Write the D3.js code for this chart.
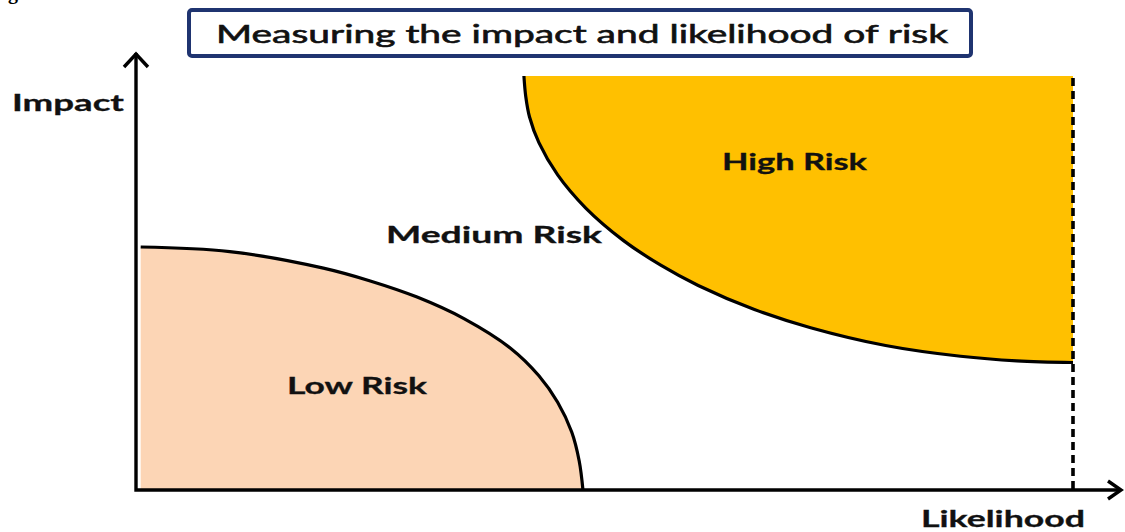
<!DOCTYPE html>
<html>
<head>
<meta charset="utf-8">
<script src="https://cdn.jsdelivr.net/npm/d3@7/dist/d3.min.js"></script>
<style>
  html, body { margin: 0; padding: 0; background: #fff; }
  svg { display: block; }
</style>
</head>
<body>
<script>
// Risk zones on a likelihood (0-100) × impact (0-100) plane.
// Each boundary is a list of [likelihood, impact] points.
const lowRiskEdge = [
  [0.5, 58.7], [10, 57.6], [20, 53.6], [25, 50.5], [30, 46.6], [35, 41.4],
  [40, 34.2], [43, 27.6], [45, 21.2], [46.5, 14], [47.3, 7], [47.7, 0]
];
const highRiskEdge = [
  [41.4, 100], [41.6, 95], [42, 90.1], [43, 83.9], [45, 76.1], [48, 68.1],
  [52, 60.3], [56, 54.3], [60, 49.4], [66, 43.6], [72, 39.2], [80, 34.9],
  [88, 32.3], [94, 31.2], [100, 30.8]
];
const zoneNames = ["Low Risk", "Medium Risk", "High Risk"];
const axisNames = ["Likelihood", "Impact"];
const titleText = "Measuring the impact and likelihood of risk";

const W = 1125, H = 532;
const svg = d3.select("body").append("svg").attr("width", W).attr("height", H);

const x = d3.scaleLinear().domain([0, 100]).range([136, 1073]);
const y = d3.scaleLinear().domain([0, 100]).range([490, 76]);

const font = "Lato, 'Open Sans', sans-serif";
const smooth = d3.curveCatmullRom.alpha(0.5);

// caption fragment at the very top edge
svg.append("text")
  .attr("x", 18).attr("y", -1)
  .attr("text-anchor", "end")
  .attr("font-family", "'Liberation Serif', serif")
  .attr("font-weight", "bold")
  .attr("font-size", 20)
  .text("Fig");

// low-risk zone: fill down to the axes, then outline only the curved edge
svg.append("path")
  .datum(lowRiskEdge)
  .attr("d", d3.area().x(d => x(d[0])).y0(y(0)).y1(d => y(d[1])).curve(d3.curveMonotoneX))
  .attr("fill", "#fcd5b5");
svg.append("path")
  .datum(lowRiskEdge)
  .attr("d", d3.line().x(d => x(d[0])).y(d => y(d[1])).curve(smooth))
  .attr("fill", "none")
  .attr("stroke", "#000")
  .attr("stroke-width", 3.2);

// high-risk zone: fill up to the top limit, outline the curved edge
svg.append("path")
  .datum(highRiskEdge)
  .attr("d", d3.area().x(d => x(d[0])).y0(y(100)).y1(d => y(d[1])).curve(d3.curveMonotoneX))
  .attr("fill", "#ffc000");
svg.append("path")
  .datum(highRiskEdge)
  .attr("d", d3.line().x(d => x(d[0])).y(d => y(d[1])).curve(smooth))
  .attr("fill", "none")
  .attr("stroke", "#000")
  .attr("stroke-width", 3.2);

// dashed limit at maximum likelihood
svg.append("line")
  .attr("x1", x(100)).attr("x2", x(100))
  .attr("y1", y(99.5)).attr("y2", y(0))
  .attr("stroke", "#000")
  .attr("stroke-width", 3.6)
  .attr("stroke-dasharray", "8,5");

// axes with open arrowheads
const axisG = svg.append("g")
  .attr("fill", "none")
  .attr("stroke", "#000")
  .attr("stroke-width", 3.4)
  .attr("stroke-linejoin", "miter");
axisG.append("path")
  .attr("d", `M${x(0)},53 L${x(0)},${y(0)} L1121,${y(0)}`);
axisG.append("path")
  .attr("d", `M${x(0) - 12},67 L${x(0)},54 L${x(0) + 12},67`);
axisG.append("path")
  .attr("d", `M1108,${y(0) - 9} L1121,${y(0)} L1108,${y(0) + 9}`);

// title box
svg.append("rect")
  .attr("x", 189).attr("y", 10)
  .attr("width", 782).attr("height", 46)
  .attr("rx", 3)
  .attr("fill", "#fff")
  .attr("stroke", "#1f3470")
  .attr("stroke-width", 4);

function label(text, x0, x1, baseline, size, weight, thicken) {
  svg.append("text")
    .attr("x", x0).attr("y", baseline)
    .attr("textLength", x1 - x0)
    .attr("lengthAdjust", "spacingAndGlyphs")
    .attr("font-family", font)
    .attr("font-size", size)
    .attr("font-weight", weight)
    .attr("fill", "#111")
    .attr("stroke", "#111")
    .attr("stroke-width", thicken)
    .text(text);
}

label(titleText, 216, 948, 43, 25, "normal", 0.6);
label(axisNames[1], 12, 124, 111, 23, "bold", 0.3);
label(axisNames[0], 921, 1085, 527, 23, "bold", 0.3);
label(zoneNames[2], 722, 867, 170, 23, "bold", 0.3);
label(zoneNames[1], 386, 602, 243, 23, "bold", 0.3);
label(zoneNames[0], 287, 427, 394, 23, "bold", 0.3);
</script>
</body>
</html>
